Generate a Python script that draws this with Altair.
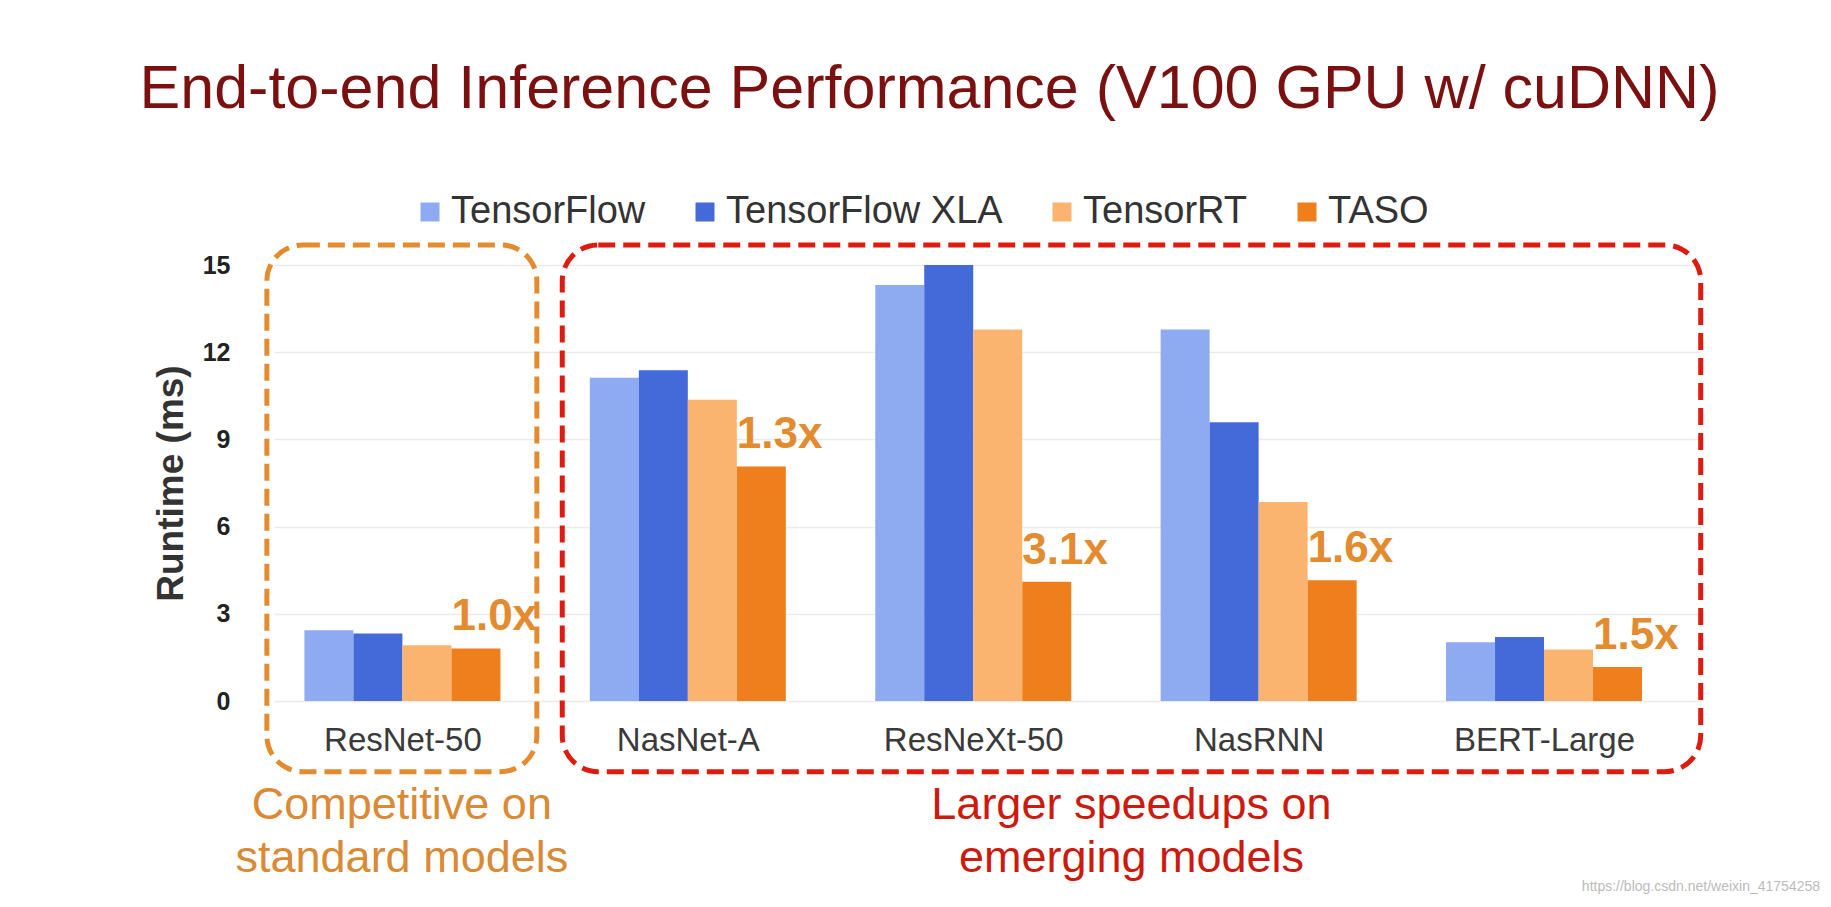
import altair as alt
import pandas as pd

# ---------------- data ----------------
models = ["ResNet-50", "NasNet-A", "ResNeXt-50", "NasRNN", "BERT-Large"]
series = ["TensorFlow", "TensorFlow XLA", "TensorRT", "TASO"]
tensorflow = [2.43, 11.12, 14.31, 12.78, 2.02]
tensorflow_xla = [2.32, 11.38, 15.00, 9.59, 2.20]
tensorrt = [1.92, 10.36, 12.78, 6.85, 1.77]
taso = [1.81, 8.07, 4.10, 4.15, 1.17]
speedups = ["1.0x", "1.3x", "3.1x", "1.6x", "1.5x"]
y_ticks = [0, 3, 6, 9, 12, 15]

group_captions = ["Competitive on\nstandard models", "Larger speedups on\nemerging models"]
group_x_start = [-0.475, 0.56]      # box extents in x-units (model index)
group_x_end = [0.471, 4.549]
group_y_low = -2.43                  # in ms units
group_y_high = 15.69
caption_y = -4.05
watermark = "https://blog.csdn.net/weixin_41754258"

# ---------------- styling ----------------
FONT = "Liberation Sans"
bar_colors = ["#8EAAF0", "#4469D8", "#FBB370", "#EE7F1C"]
box_colors = ["#E38B2F", "#DD1B0E"]
caption_colors = ["#DA8935", "#CC1A0F"]
title_color = "#7A1010"
label_color = "#E38B2F"
W = 49 / 285.4  # bar width in x-units

values = [tensorflow, tensorflow_xla, tensorrt, taso]
rows = []
for i, m in enumerate(models):
    for s, name in enumerate(series):
        x0 = i - 2 * W + s * W
        rows.append({"model": m, "series": name, "value": values[s][i],
                     "x0": x0, "x1": x0 + W})
bars_df = pd.DataFrame(rows)

labels_df = pd.DataFrame({
    "x": [i - 2 * W + 3 * W for i in range(len(models))],
    "value": taso,
    "label": speedups,
})

xscale = alt.Scale(domain=[-0.45, 4.55], nice=False, zero=False)
yscale = alt.Scale(domain=[0, 15], nice=False)

label_expr = "[" + ",".join("'" + m + "'" for m in models) + "][datum.value]"

bars = alt.Chart(bars_df).mark_rect().encode(
    x=alt.X("x0:Q", scale=xscale,
            axis=alt.Axis(values=list(range(len(models))), labelExpr=label_expr,
                          grid=False, domain=False, ticks=False,
                          labelFontSize=33, labelColor="#3a3a3a", labelLimit=500,
                          labelPadding=23, title=None)),
    x2="x1:Q",
    y=alt.Y("value:Q", scale=yscale,
            axis=alt.Axis(values=y_ticks, labelFontSize=25, labelFontWeight="bold",
                          labelColor="#222222", labelPadding=44, domain=False,
                          ticks=False, gridColor="#ebebeb", gridWidth=1.5,
                          title="Runtime (ms)", titleFontSize=37,
                          titleFontWeight="bold", titleColor="#333333",
                          titlePadding=12)),
    y2=alt.datum(0),
    color=alt.Color("series:N", scale=alt.Scale(domain=series, range=bar_colors),
                    sort=series,
                    legend=alt.Legend(title=None, orient="none", direction="horizontal",
                                      legendX=137, legendY=-72,
                                      symbolType="square", symbolSize=361,
                                      symbolStrokeWidth=0, labelFontSize=38,
                                      labelColor="#333333", labelOffset=2,
                                      columnPadding=40, labelLimit=500,
                                      padding=0)),
)

layers = [bars]
for g in range(len(group_captions)):
    box_df = pd.DataFrame({"bx0": [group_x_start[g]], "bx1": [group_x_end[g]],
                           "by0": [group_y_low], "by1": [group_y_high]})
    layers.append(
        alt.Chart(box_df).mark_rect(
            fillOpacity=0, stroke=box_colors[g], strokeWidth=5,
            strokeDash=[17, 8], cornerRadius=36, clip=False
        ).encode(
            x=alt.X("bx0:Q", scale=xscale), x2="bx1:Q",
            y=alt.Y("by0:Q", scale=yscale), y2="by1:Q",
        )
    )
    cap_df = pd.DataFrame({"cx": [(group_x_start[g] + group_x_end[g]) / 2],
                           "cy": [caption_y], "text": [group_captions[g]]})
    layers.append(
        alt.Chart(cap_df).mark_text(
            fontSize=45, lineBreak="\n", lineHeight=53, align="center",
            baseline="alphabetic", color=caption_colors[g], clip=False
        ).encode(
            x=alt.X("cx:Q", scale=xscale), y=alt.Y("cy:Q", scale=yscale),
            text="text:N",
        )
    )

speed_labels = alt.Chart(labels_df).mark_text(
    align="left", baseline="alphabetic", dy=-18, fontSize=44,
    fontWeight="bold", color=label_color
).encode(
    x=alt.X("x:Q", scale=xscale), y=alt.Y("value:Q", scale=yscale),
    text="label:N",
)
layers.append(speed_labels)

wm = alt.Chart(pd.DataFrame({"wx": [4.967], "wy": [-6.52], "t": [watermark]})).mark_text(
    align="right", baseline="alphabetic", fontSize=14, color="#bbbbbb", clip=False
).encode(
    x=alt.X("wx:Q", scale=xscale), y=alt.Y("wy:Q", scale=yscale), text="t:N"
)
layers.append(wm)

chart = alt.layer(*layers).properties(
    width=1427,
    height=436,
    autosize=alt.AutoSizeParams(type="none"),
    padding={"left": 266, "top": 257, "right": 122, "bottom": 198},
    title=alt.TitleParams(
        text="End-to-end Inference Performance (V100 GPU w/ cuDNN)",
        fontSize=61, fontWeight="normal", color=title_color, font=FONT,
        anchor="middle", dx=-58, offset=72,
    ),
).configure(font=FONT).configure_view(strokeWidth=0)

chart.save("out.html", embed_options={"renderer": "svg", "actions": False})
